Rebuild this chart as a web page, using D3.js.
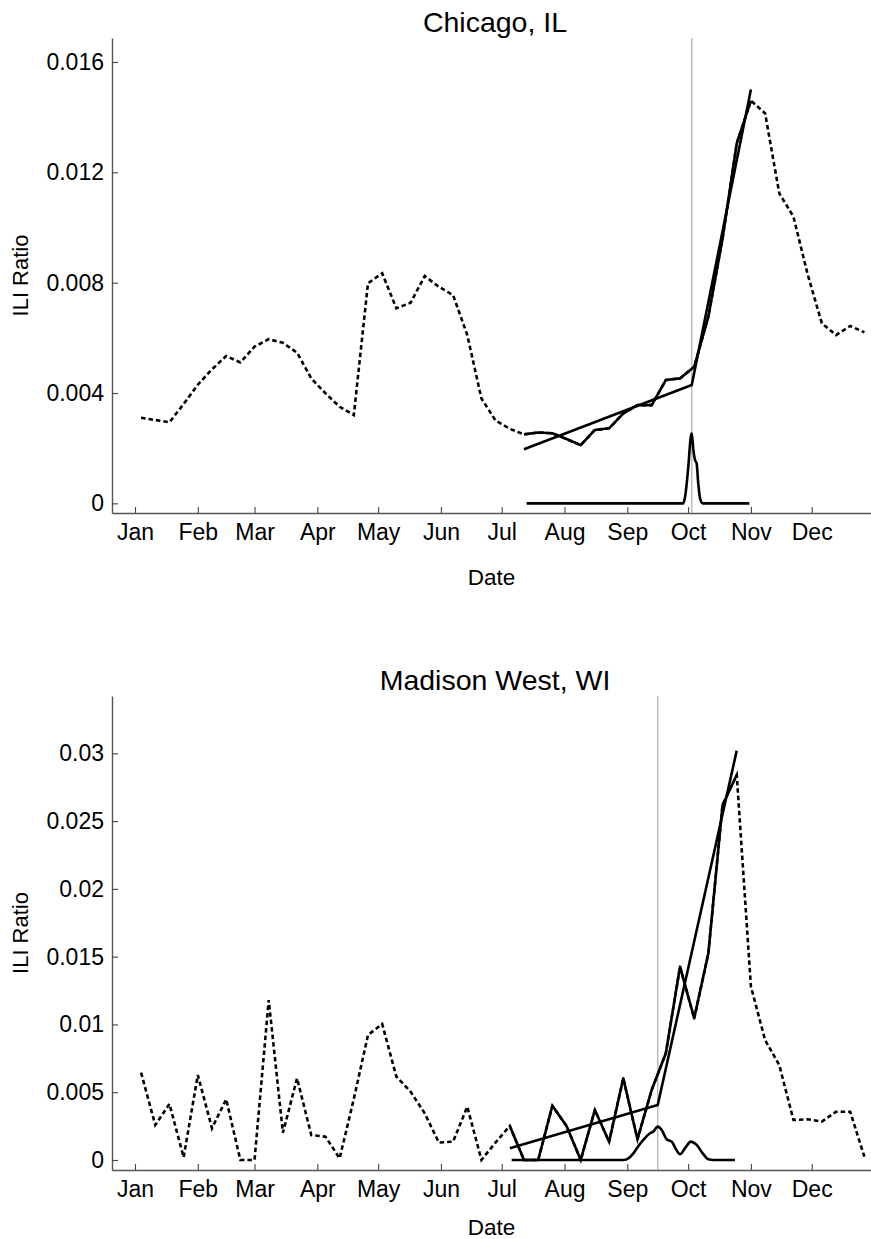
<!DOCTYPE html>
<html>
<head>
<meta charset="utf-8">
<script src="https://cdn.jsdelivr.net/npm/d3@7"></script>
<style>
  body { margin: 0; background: #fff; }
  svg { display: block; font-family: "Liberation Sans", Arial, sans-serif; }
</style>
</head>
<body>
<svg id="chart" width="871" height="1239"></svg>
<script>
// ---- data ----------------------------------------------------------------
// Weekly ILI ratios for 2009; first week starts on this date, one value per week.
const firstWeek = "2009-01-04";

const chicagoTitle = "Chicago, IL";
const chicagoILI = [
  0.0031, 0.00302, 0.00294, 0.0036, 0.0043, 0.00486, 0.00534, 0.00511, 0.00568, 0.00595,
  0.00582, 0.00546, 0.00453, 0.00399, 0.0035, 0.0032, 0.00798, 0.00834, 0.00707, 0.00727,
  0.00824, 0.00785, 0.00755, 0.0061, 0.0038, 0.0030, 0.0027, 0.0025, 0.00257, 0.00254,
  0.00233, 0.00211, 0.00266, 0.00272, 0.00326, 0.00356, 0.00356, 0.00447, 0.00453, 0.00495,
  0.00677, 0.0096, 0.01305, 0.0146, 0.01414, 0.01124, 0.01039, 0.0083, 0.00653, 0.0061,
  0.00643, 0.0062
];
// first and last week index of the fitted window
const chicagoWindow = [27, 43];
// two-segment fit: day of year -> value
const chicagoFitDays = [192, 274.8, 304];
const chicagoFitValues = [0.00196, 0.00429, 0.0150];
const chicagoBreakDay = 274.8;
// distribution of the change point (day of year -> density, scaled)
const chicagoDensityDays = [193.3, 270.6, 271.5, 273.1, 274.3, 274.8, 275.6, 276.4, 277.2, 278.0, 278.9, 280.2, 303.2];
const chicagoDensityValues = [0, 0, 0.00024, 0.00133, 0.00241, 0.00254, 0.00193, 0.00157, 0.00145, 0.00073, 0.00018, 0, 0];
const chicagoTicks = [0, 0.004, 0.008, 0.012, 0.016];
const chicagoYDomain = [-0.00035, 0.01687];

const madisonTitle = "Madison West, WI";
const madisonILI = [
  0.00644, 0.00258, 0.00413, 0.0002, 0.00627, 0.00234, 0.00448, 0, 0, 0.0118,
  0.00201, 0.00603, 0.00184, 0.00172, 0.00012, 0.0045, 0.00922, 0.01003, 0.00615, 0.00504,
  0.00344, 0.00128, 0.00135, 0.00393, 0.0, 0.0013, 0.00251, 0, 0, 0.004,
  0.0025, 0, 0.00369, 0.00135, 0.00603, 0.00153, 0.00516, 0.00787, 0.01426, 0.01045,
  0.01525, 0.02619, 0.0284, 0.0128, 0.00885, 0.0070, 0.00295, 0.003, 0.00283, 0.00356,
  0.00356, 0.00024
];
const madisonWindow = [26, 42];
const madisonFitDays = [185, 258, 297];
const madisonFitValues = [0.00086, 0.00406, 0.0302];
const madisonBreakDay = 258;
const madisonDensityDays = [185.9, 241.0, 243.3, 246.0, 248.3, 250.9, 254.2, 255.8, 258.0, 260.0, 262.4, 264.9, 267.0, 269.0, 272.0, 274.3, 277.2, 280.2, 283.0, 285.4, 296.1];
const madisonDensityValues = [0, 0, 0.0001, 0.00049, 0.001, 0.00148, 0.00197, 0.00209, 0.00246, 0.00221, 0.00153, 0.00135, 0.0008, 0.00042, 0.00098, 0.00135, 0.00111, 0.00049, 0.00005, 0, 0];
const madisonTicks = [0, 0.005, 0.01, 0.015, 0.02, 0.025, 0.03];
const madisonYDomain = [-0.00074, 0.03423];

const xLabel = "Date";
const yLabel = "ILI Ratio";

// ---- drawing ---------------------------------------------------------------
const svg = d3.select("#chart");
const yearStart = Date.UTC(2009, 0, 1);
const dayToDate = d => new Date(yearStart + d * 864e5);
const week0 = new Date(firstWeek + "T00:00:00Z");
const weekDate = i => d3.utcDay.offset(week0, 7 * i);

function drawPanel(p) {
  const g = svg.append("g");

  // horizontal time scale: Jan 1 and Dec 1 anchor the month ticks
  const x = d3.scaleUtc()
    .domain([dayToDate(0), dayToDate(334)])
    .range([135, 811.7]);
  x.domain([x.invert(p.left), x.invert(p.right)]).range([p.left, p.right]);

  const y = d3.scaleLinear().domain(p.yDomain).range([p.bottom, p.top]);

  // axes
  const xAxis = d3.axisBottom(x)
    .ticks(d3.utcMonth.every(1))
    .tickFormat(d3.utcFormat("%b"))
    .tickSizeInner(-6).tickSizeOuter(0).tickPadding(11);
  const yAxis = d3.axisLeft(y)
    .tickValues(p.ticks)
    .tickFormat(d => d === 0 ? "0" : String(+d.toFixed(4)))
    .tickSizeInner(-6).tickSizeOuter(0).tickPadding(8);

  const gx = g.append("g").attr("transform", `translate(0,${p.bottom})`).call(xAxis);
  const gy = g.append("g").attr("transform", `translate(${p.left},0)`).call(yAxis);
  [gx, gy].forEach(a => {
    a.select(".domain").attr("stroke", "#555").attr("stroke-width", 1.4);
    a.selectAll(".tick line").attr("stroke", "#444").attr("stroke-width", 1.1);
    a.selectAll(".tick text").attr("fill", "#000").attr("font-size", 23)
      .attr("font-family", "'Liberation Sans', Arial, sans-serif");
  });

  // change-point marker
  g.append("line")
    .attr("x1", x(dayToDate(p.breakDay))).attr("x2", x(dayToDate(p.breakDay)))
    .attr("y1", p.top).attr("y2", p.bottom)
    .attr("stroke", "#bdbdbd").attr("stroke-width", 1.5);

  const line = d3.line().x(d => x(d[0])).y(d => y(d[1]));

  // full season, dashed
  const season = p.values.map((v, i) => [weekDate(i), v]);
  g.append("path").datum(season)
    .attr("d", line)
    .attr("fill", "none").attr("stroke", "#000")
    .attr("stroke-width", 2.6).attr("stroke-dasharray", "4.5,3");

  // observed window, solid
  const obs = season.slice(p.window[0], p.window[1] + 1);
  g.append("path").datum(obs)
    .attr("d", line)
    .attr("fill", "none").attr("stroke", "#000").attr("stroke-width", 2.6)
    .attr("stroke-linejoin", "round");

  // piecewise-linear fit
  const fit = p.fitDays.map((d, i) => [dayToDate(d), p.fitValues[i]]);
  g.append("path").datum(fit)
    .attr("d", line)
    .attr("fill", "none").attr("stroke", "#000").attr("stroke-width", 2.6);

  // change-point density
  const dens = p.densDays.map((d, i) => [dayToDate(d), p.densValues[i]]);
  g.append("path").datum(dens)
    .attr("d", d3.line().x(d => x(d[0])).y(d => y(d[1])).curve(d3.curveMonotoneX))
    .attr("fill", "none").attr("stroke", "#000").attr("stroke-width", 2.6);

  // titles
  g.append("text")
    .attr("x", 495).attr("y", p.titleY)
    .attr("text-anchor", "middle").attr("font-size", 28.5).attr("fill", "#000")
    .text(p.title);
  g.append("text")
    .attr("x", (p.left + p.right) / 2).attr("y", p.bottom + p.xLabelGap)
    .attr("text-anchor", "middle").attr("font-size", 22.5).attr("fill", "#000")
    .text(xLabel);
  g.append("text")
    .attr("transform", `translate(28,${(p.top + p.bottom) / 2}) rotate(-90)`)
    .attr("text-anchor", "middle").attr("font-size", 22).attr("fill", "#000")
    .text(yLabel);
}

drawPanel({
  title: chicagoTitle, titleY: 32,
  left: 112, right: 871, top: 38, bottom: 513, xLabelGap: 72,
  yDomain: chicagoYDomain, ticks: chicagoTicks,
  values: chicagoILI, window: chicagoWindow,
  fitDays: chicagoFitDays, fitValues: chicagoFitValues,
  breakDay: chicagoBreakDay,
  densDays: chicagoDensityDays, densValues: chicagoDensityValues
});

drawPanel({
  title: madisonTitle, titleY: 690,
  left: 112, right: 871, top: 696, bottom: 1170, xLabelGap: 65,
  yDomain: madisonYDomain, ticks: madisonTicks,
  values: madisonILI, window: madisonWindow,
  fitDays: madisonFitDays, fitValues: madisonFitValues,
  breakDay: madisonBreakDay,
  densDays: madisonDensityDays, densValues: madisonDensityValues
});
</script>
</body>
</html>
